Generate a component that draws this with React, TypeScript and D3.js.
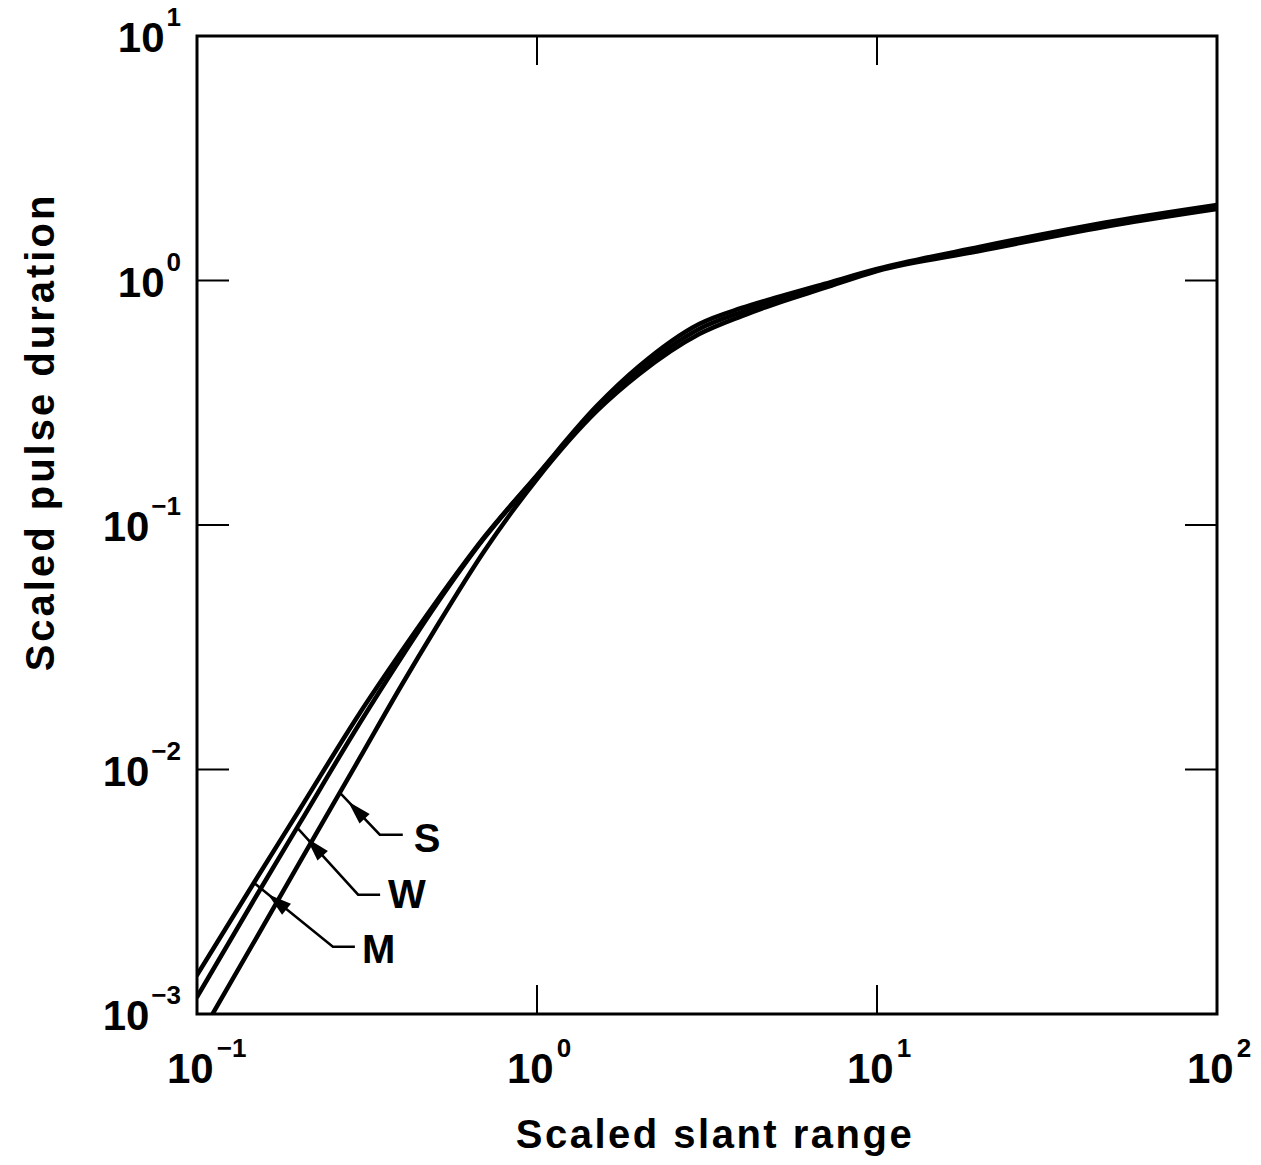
import React from 'react';
import * as d3 from 'd3';

// ---- data ----
const xValues = [0.1, 0.15, 0.2, 0.3, 0.4, 0.5, 0.7, 1, 1.5, 2, 3, 4, 5, 7, 10, 20, 50, 100];
const seriesM = [1.444e-3, 3.6e-3, 6.83e-3, 0.01687, 0.0305, 0.0475, 0.0893, 0.16, 0.307, 0.447, 0.664, 0.772, 0.848, 0.968, 1.114, 1.371, 1.751, 2.036];
const seriesW = [1.174e-3, 3.067e-3, 5.99e-3, 0.01535, 0.02885, 0.0462, 0.0885, 0.1587, 0.301, 0.43, 0.6335, 0.743, 0.8245, 0.954, 1.104, 1.345, 1.718, 1.998];
const seriesS = [7.76e-4, 2.065e-3, 4.15e-3, 0.01104, 0.02216, 0.0372, 0.0783, 0.1542, 0.2926, 0.4146, 0.604, 0.7156, 0.8014, 0.932, 1.094, 1.32, 1.686, 1.961];
const seriesNames = ['M', 'W', 'S'];
const labelAnchorX = [0.147, 0.197, 0.263];
const xTickExps = [-1, 0, 1, 2];
const yTickExps = [-3, -2, -1, 0, 1];
const xTitle = 'Scaled slant range';
const yTitle = 'Scaled pulse duration';

const WIDTH = 1261;
const HEIGHT = 1165;
const FONT = '"Liberation Sans", Arial, Helvetica, sans-serif';

function expText(e: number) {
  return e < 0 ? '\u2212' + Math.abs(e) : String(e);
}

function valueAt(xs: number[], ys: number[], xv: number) {
  const lx = Math.log10(xv);
  for (let i = 0; i < xs.length - 1; i++) {
    const a = Math.log10(xs[i]);
    const b = Math.log10(xs[i + 1]);
    if (lx >= a && lx <= b) {
      const t = (lx - a) / (b - a);
      return Math.pow(10, Math.log10(ys[i]) + t * (Math.log10(ys[i + 1]) - Math.log10(ys[i])));
    }
  }
  return ys[ys.length - 1];
}

export default function App() {
  const left = 197, right = 1217, top = 36, bottom = 1014;
  const x = d3.scaleLog().domain([0.1, 100]).range([left, right]);
  const y = d3.scaleLog().domain([1e-3, 10]).range([bottom, top]);

  const allSeries = [seriesM, seriesW, seriesS];
  const line = d3
    .line<[number, number]>()
    .x((d) => x(d[0]))
    .y((d) => y(d[1]))
    .curve(d3.curveMonotoneX);

  // annotation geometry (pixel offsets from the anchor on each curve)
  const annGeom = [
    { elbow: [79, 64], end: [101, 64], label: [108, 80], tip: 18 },
    { elbow: [61, 67], end: [83, 67], label: [91, 80], tip: 14 },
    { elbow: [40, 42], end: [63, 42], label: [74, 59], tip: 12 },
  ];

  const tickLen = 32;

  return (
    <svg
      width={WIDTH}
      height={HEIGHT}
      style={{ position: 'absolute', left: 0, top: 0, background: '#fff' }}
      fontFamily={FONT}
    >
      <rect x={0} y={0} width={WIDTH} height={HEIGHT} fill="#fff" />
      <defs>
        <clipPath id="plotclip">
          <rect x={left} y={top} width={right - left} height={bottom - top} />
        </clipPath>
      </defs>

      {/* curves */}
      <g clipPath="url(#plotclip)">
        {allSeries.map((s, i) => (
          <path
            key={seriesNames[i]}
            d={line(xValues.map((xv, j) => [xv, s[j]] as [number, number])) || ''}
            fill="none"
            stroke="#000"
            strokeWidth={4.5}
            strokeLinejoin="round"
            strokeLinecap="round"
          />
        ))}
      </g>

      {/* frame */}
      <rect x={left} y={top} width={right - left} height={bottom - top} fill="none" stroke="#000" strokeWidth={3} />

      {/* y ticks (inside, both sides) */}
      {yTickExps.slice(1, -1).map((e) => {
        const yy = y(Math.pow(10, e));
        return (
          <g key={'yt' + e}>
            <line x1={left} x2={left + tickLen} y1={yy} y2={yy} stroke="#000" strokeWidth={2} />
            <line x1={right - tickLen} x2={right} y1={yy} y2={yy} stroke="#000" strokeWidth={2} />
          </g>
        );
      })}
      {/* x ticks (inside, top and bottom) */}
      {xTickExps.slice(1, -1).map((e) => {
        const xx = x(Math.pow(10, e));
        return (
          <g key={'xt' + e}>
            <line x1={xx} x2={xx} y1={bottom} y2={bottom - 29} stroke="#000" strokeWidth={2} />
            <line x1={xx} x2={xx} y1={top} y2={top + 29} stroke="#000" strokeWidth={2} />
          </g>
        );
      })}

      {/* y tick labels */}
      {yTickExps.map((e) => (
        <text
          key={'yl' + e}
          x={181}
          y={y(Math.pow(10, e)) + 16}
          textAnchor="end"
          fontSize={42}
          fontWeight="bold"
        >
          10
          <tspan dx={2} dy={-26} fontSize={26}>
            {expText(e)}
          </tspan>
        </text>
      ))}

      {/* x tick labels */}
      {xTickExps.map((e) => (
        <text
          key={'xl' + e}
          x={x(Math.pow(10, e)) - 30}
          y={1083}
          textAnchor="start"
          fontSize={42}
          fontWeight="bold"
        >
          10
          <tspan dx={3} dy={-26} fontSize={26}>
            {expText(e)}
          </tspan>
        </text>
      ))}

      {/* axis titles */}
      <text x={715} y={1148} textAnchor="middle" fontSize={40} fontWeight="bold" letterSpacing={2.5}>
        {xTitle}
      </text>
      <text
        transform="translate(54,432) rotate(-90)"
        textAnchor="middle"
        fontSize={40}
        fontWeight="bold"
        letterSpacing={3}
      >
        {yTitle}
      </text>

      {/* annotations */}
      {seriesNames.map((name, i) => {
        const xv = labelAnchorX[i];
        const ax = x(xv);
        const ay = y(valueAt(xValues, allSeries[i], xv));
        const g = annGeom[i];
        const ex = ax + g.elbow[0];
        const ey = ay + g.elbow[1];
        const dx = ex - ax;
        const dy = ey - ay;
        const len = Math.hypot(dx, dy);
        const ux = dx / len;
        const uy = dy / len;
        const tx = ax + ux * g.tip;
        const ty = ay + uy * g.tip;
        const hl = 24;
        const hw = 7;
        const bx = tx + ux * hl;
        const by = ty + uy * hl;
        const px = -uy;
        const py = ux;
        return (
          <g key={'ann' + name}>
            <polyline
              points={`${ax},${ay} ${ex},${ey} ${ax + g.end[0]},${ay + g.end[1]}`}
              fill="none"
              stroke="#000"
              strokeWidth={2.5}
            />
            <polygon
              points={`${tx},${ty} ${bx + px * hw},${by + py * hw} ${bx - px * hw},${by - py * hw}`}
              fill="#000"
            />
            <text x={ax + g.label[0]} y={ay + g.label[1]} fontSize={40} fontWeight="bold">
              {name}
            </text>
          </g>
        );
      })}
    </svg>
  );
}
